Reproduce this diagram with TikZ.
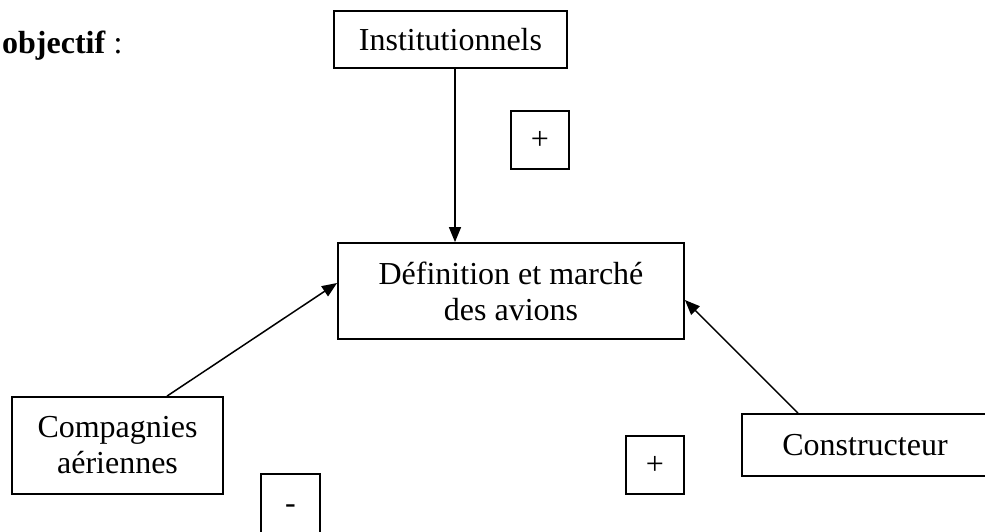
\documentclass[tikz,border=0pt]{standalone}
\usepackage{fontspec}
\setmainfont{Liberation Serif}
\usetikzlibrary{arrows.meta}
\begin{document}
\begin{tikzpicture}[x=1pt,y=-1pt,
  box/.style={draw=black,line width=1.8pt,inner sep=0pt,align=center,
    font=\fontsize{32}{36}\selectfont},
  sign/.style={draw=black,line width=1.8pt,inner sep=0pt,
    minimum width=58pt,minimum height=58pt,font=\fontsize{32}{36}\selectfont},
  arr/.style={line width=1.5pt,-{Triangle[length=15pt,width=12pt]}}]
\useasboundingbox (0,0) rectangle (985,531);
\node[anchor=base west,inner sep=0pt,font=\fontsize{32}{36}\selectfont] (obj) at (2,53) {\textbf{objectif} :};
\node[box,minimum width=233pt,minimum height=57pt] (inst) at (450.5,39.5) {Institutionnels};
\node[box,minimum width=346pt,minimum height=96pt] (def) at (511,291) {Définition et marché\\des avions};
\node[box,minimum width=211pt,minimum height=97pt] (comp) at (117.5,445.5) {Compagnies\\aériennes};
\node[box,minimum width=246pt,minimum height=62pt] (cons) at (865,445) {Constructeur};
\node[sign] (p1) at (540,140) {+};
\node[sign] (p2) at (655,465) {+};
\node[sign,minimum width=59pt,minimum height=71pt] (m1) at (290.5,509.5) {-};
\draw[arr] ([xshift=4.5pt]inst.south) -- ([xshift=4.5pt]inst.south |- def.north);
\draw[arr] ([xshift=49.5pt]comp.north) -- ([yshift=8pt]def.west);
\draw[arr] ([xshift=-67pt]cons.north) -- ([yshift=-9pt]def.east);
\end{tikzpicture}
\end{document}
